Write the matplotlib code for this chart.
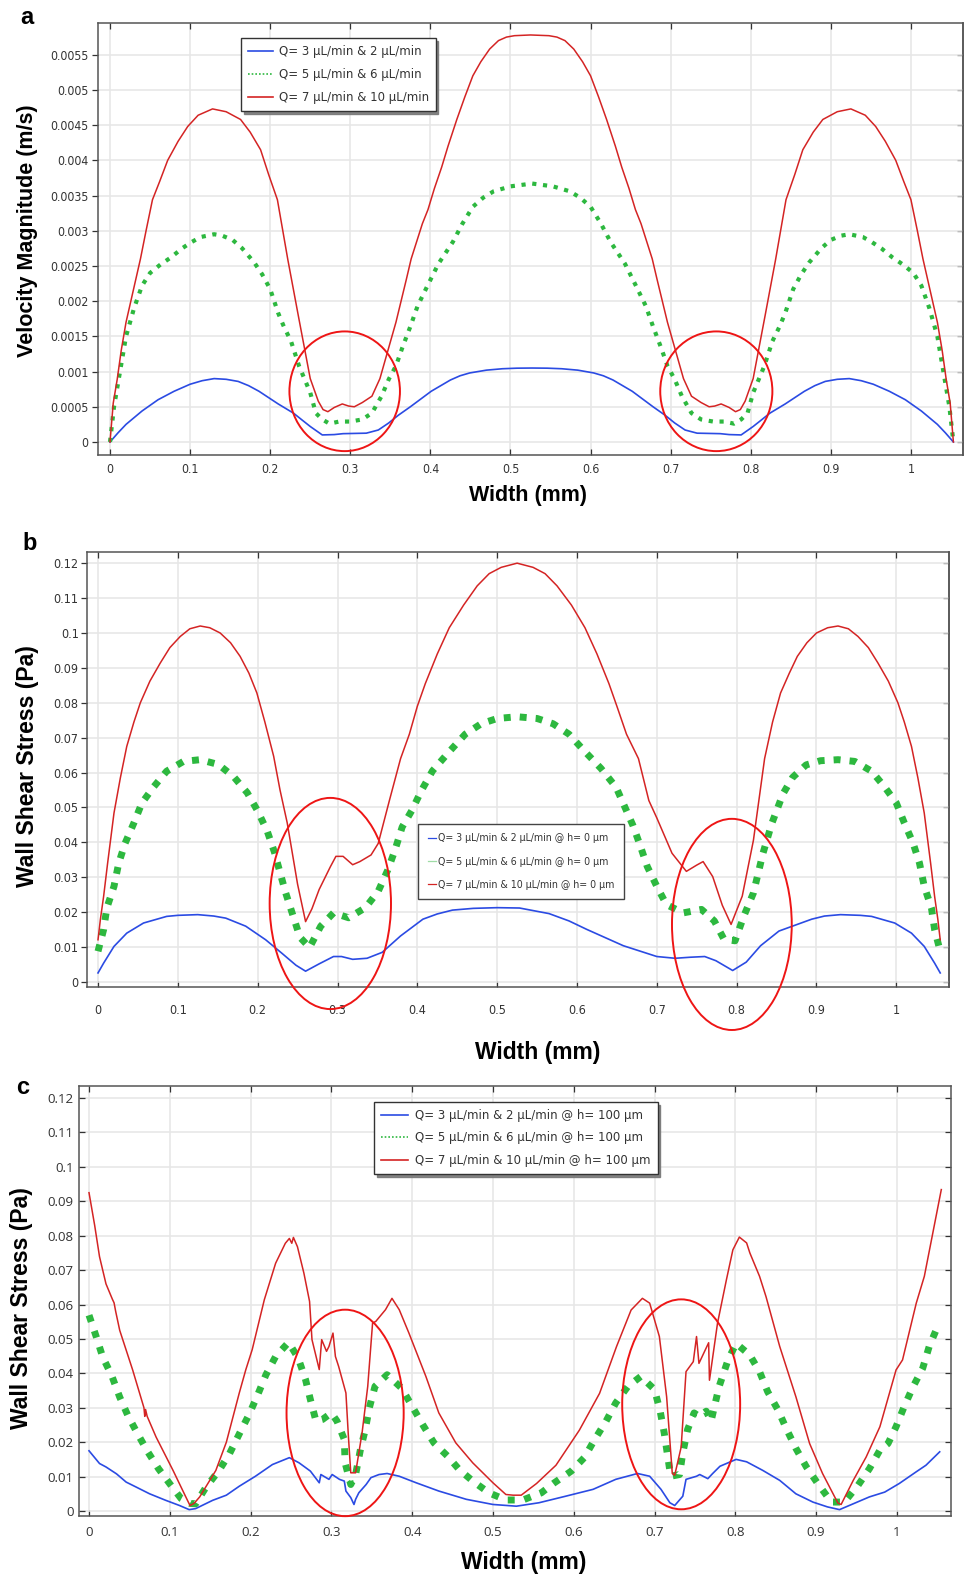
import os
import matplotlib
matplotlib.use("Agg")
import matplotlib.pyplot as plt
from matplotlib.patches import Ellipse
from matplotlib.lines import Line2D
from matplotlib import font_manager
from matplotlib.font_manager import FontProperties

# ---------------------------------------------------------------- data
WIDTH_TICKS = [0, 0.1, 0.2, 0.3, 0.4, 0.5, 0.6, 0.7, 0.8, 0.9, 1.0]
WIDTH_TICK_LABELS = ["0", "0.1", "0.2", "0.3", "0.4", "0.5", "0.6", "0.7", "0.8", "0.9", "1"]

VEL_TICKS = [0, 0.0005, 0.001, 0.0015, 0.002, 0.0025, 0.003, 0.0035, 0.004, 0.0045, 0.005, 0.0055]
VEL_TICK_LABELS = ["0", "0.0005", "0.001", "0.0015", "0.002", "0.0025", "0.003", "0.0035",
                   "0.004", "0.0045", "0.005", "0.0055"]
WSS_TICKS = [0, 0.01, 0.02, 0.03, 0.04, 0.05, 0.06, 0.07, 0.08, 0.09, 0.1, 0.11, 0.12]
WSS_TICK_LABELS = ["0", "0.01", "0.02", "0.03", "0.04", "0.05", "0.06", "0.07", "0.08",
                   "0.09", "0.1", "0.11", "0.12"]

LABELS_A = ["Q= 3 \u03bcL/min & 2 \u03bcL/min",
            "Q= 5 \u03bcL/min & 6 \u03bcL/min",
            "Q= 7 \u03bcL/min & 10 \u03bcL/min"]
LABELS_B = ["Q= 3 \u03bcL/min & 2 \u03bcL/min @ h= 0 \u03bcm",
            "Q= 5 \u03bcL/min & 6 \u03bcL/min @ h= 0 \u03bcm",
            "Q= 7 \u03bcL/min & 10 \u03bcL/min @ h= 0 \u03bcm"]
LABELS_C = ["Q= 3 \u03bcL/min & 2 \u03bcL/min @ h= 100 \u03bcm",
            "Q= 5 \u03bcL/min & 6 \u03bcL/min @ h= 100 \u03bcm",
            "Q= 7 \u03bcL/min & 10 \u03bcL/min @ h= 100 \u03bcm"]

# (a) velocity magnitude, m/s
A_LOW_X = [0.0, 0.01, 0.02, 0.04, 0.06, 0.08, 0.1, 0.115, 0.13, 0.145, 0.16, 0.173, 0.186,
           0.198, 0.21, 0.229, 0.24, 0.25, 0.265, 0.28, 0.291, 0.32, 0.335, 0.348, 0.36,
           0.375, 0.388, 0.401, 0.413, 0.425, 0.437, 0.449, 0.47, 0.49, 0.508, 0.527, 0.546,
           0.564, 0.584, 0.604, 0.616, 0.628, 0.64, 0.652, 0.665, 0.678, 0.693, 0.705, 0.718,
           0.733, 0.762, 0.773, 0.788, 0.803, 0.813, 0.824, 0.843, 0.855, 0.867, 0.88, 0.893,
           0.908, 0.923, 0.938, 0.953, 0.973, 0.993, 1.013, 1.033, 1.043, 1.053]
A_LOW_V = [0.0, 0.00013, 0.00025, 0.00044, 0.0006, 0.00072, 0.00082, 0.00087, 0.0009,
           0.00089, 0.00086, 0.0008, 0.00072, 0.00063, 0.00054, 0.00041, 0.00031, 0.00022,
           0.0001, 0.000105, 0.000118, 0.000125, 0.00017, 0.00027, 0.00038, 0.0005, 0.00061,
           0.00072, 0.0008, 0.00088, 0.00094, 0.00098, 0.00102, 0.00104, 0.001048, 0.00105,
           0.001048, 0.00104, 0.00102, 0.00098, 0.00094, 0.00088, 0.0008, 0.00072, 0.00061,
           0.0005, 0.00038, 0.00027, 0.00017, 0.000125, 0.000118, 0.000105, 0.0001, 0.00022,
           0.00031, 0.00041, 0.00054, 0.00063, 0.00072, 0.0008, 0.00086, 0.00089, 0.0009,
           0.00087, 0.00082, 0.00072, 0.0006, 0.00044, 0.00025, 0.00013, 0.0]

A_MID_X = [0.0, 0.005, 0.011, 0.02, 0.03, 0.04, 0.05, 0.063, 0.076, 0.09, 0.102, 0.113, 0.13,
           0.14, 0.153, 0.165, 0.18, 0.19, 0.2, 0.21, 0.217, 0.226, 0.236, 0.243, 0.25, 0.257,
           0.265, 0.274, 0.286, 0.3, 0.315, 0.327, 0.339, 0.348, 0.357, 0.365, 0.375, 0.384,
           0.396, 0.41, 0.428, 0.44, 0.453, 0.466, 0.479, 0.5, 0.527, 0.553, 0.574, 0.587,
           0.6, 0.613, 0.625, 0.643, 0.657, 0.669, 0.678, 0.688, 0.696, 0.705, 0.714, 0.726,
           0.738, 0.753, 0.767, 0.779, 0.788, 0.796, 0.803, 0.81, 0.817, 0.827, 0.836, 0.843,
           0.853, 0.863, 0.873, 0.888, 0.9, 0.913, 0.923, 0.94, 0.951, 0.963, 0.977, 0.99,
           1.003, 1.013, 1.023, 1.033, 1.042, 1.048, 1.053]
A_MID_V = [0.0, 0.0005, 0.0009, 0.0015, 0.0019, 0.00222, 0.0024, 0.00252, 0.00262, 0.00275,
           0.00284, 0.00291, 0.00295, 0.00293, 0.00287, 0.00275, 0.00255, 0.00238, 0.00217,
           0.00183, 0.00164, 0.00143, 0.00108, 0.00089, 0.0007, 0.00041, 0.00032, 0.00026,
           0.00029, 0.00029, 0.00032, 0.00041, 0.00065, 0.00089, 0.00108, 0.00134, 0.00164,
           0.00193, 0.00221, 0.00253, 0.00284, 0.0031, 0.00334, 0.00347, 0.00356, 0.00363,
           0.00367, 0.00363, 0.00356, 0.00347, 0.00334, 0.0031, 0.00284, 0.00253, 0.00221,
           0.00193, 0.00164, 0.00134, 0.00108, 0.00089, 0.00065, 0.00041, 0.00032, 0.00029,
           0.00029, 0.00026, 0.00032, 0.00041, 0.0007, 0.00089, 0.00108, 0.00143, 0.00164,
           0.00183, 0.00217, 0.00238, 0.00255, 0.00275, 0.00287, 0.00293, 0.00295, 0.00291,
           0.00284, 0.00275, 0.00262, 0.00252, 0.0024, 0.00222, 0.0019, 0.0015, 0.0009,
           0.0005, 0.0]

A_HIGH_X = [0.0, 0.004, 0.009, 0.014, 0.02, 0.03, 0.038, 0.045, 0.053, 0.062, 0.072, 0.085,
            0.097, 0.11, 0.128, 0.145, 0.163, 0.175, 0.188, 0.198, 0.209, 0.222, 0.235, 0.25,
            0.26, 0.266, 0.272, 0.28, 0.29, 0.298, 0.305, 0.315, 0.327, 0.337, 0.344, 0.357,
            0.37, 0.376, 0.383, 0.39, 0.397, 0.405, 0.414, 0.422, 0.433, 0.443, 0.453, 0.463,
            0.474, 0.485, 0.495, 0.505, 0.525, 0.548, 0.558, 0.568, 0.579, 0.59, 0.6, 0.61,
            0.62, 0.631, 0.639, 0.648, 0.656, 0.663, 0.67, 0.677, 0.683, 0.696, 0.709, 0.716,
            0.726, 0.738, 0.748, 0.755, 0.763, 0.773, 0.781, 0.787, 0.793, 0.803, 0.818,
            0.831, 0.844, 0.855, 0.865, 0.878, 0.89, 0.908, 0.925, 0.943, 0.956, 0.968, 0.981,
            0.991, 1.0, 1.008, 1.015, 1.023, 1.033, 1.039, 1.044, 1.049, 1.053]
A_HIGH_V = [0.0, 0.00055, 0.00089, 0.0013, 0.0017, 0.0022, 0.0026, 0.003, 0.00344, 0.0037,
            0.004, 0.00427, 0.00448, 0.00464, 0.00473, 0.00469, 0.00458, 0.0044, 0.00415,
            0.0038, 0.00344, 0.00259, 0.0018, 0.0009, 0.00058, 0.00046, 0.00043, 0.00049,
            0.00054, 0.00051, 0.0005, 0.00056, 0.00065, 0.0009, 0.00118, 0.0017, 0.00231,
            0.0026, 0.00285, 0.0031, 0.0033, 0.0036, 0.0039, 0.0042, 0.00458, 0.0049, 0.0052,
            0.0054, 0.00558, 0.0057, 0.00575, 0.00577, 0.00578, 0.00577, 0.00575, 0.0057,
            0.00558, 0.0054, 0.0052, 0.0049, 0.00458, 0.0042, 0.0039, 0.0036, 0.0033, 0.0031,
            0.00285, 0.0026, 0.00231, 0.0017, 0.00118, 0.0009, 0.00065, 0.00056, 0.0005,
            0.00051, 0.00054, 0.00049, 0.00043, 0.00046, 0.00058, 0.0009, 0.0018, 0.00259,
            0.00344, 0.0038, 0.00415, 0.0044, 0.00458, 0.00469, 0.00473, 0.00464, 0.00448,
            0.00427, 0.004, 0.0037, 0.00344, 0.003, 0.0026, 0.0022, 0.0017, 0.0013, 0.00089,
            0.00055, 0.0]

# (b) wall shear stress at h = 0 um, Pa
B_LOW_X = [0.0, 0.007, 0.02, 0.036, 0.057, 0.086, 0.1, 0.125, 0.145, 0.16, 0.185, 0.21, 0.23,
           0.248, 0.26, 0.277, 0.295, 0.305, 0.319, 0.337, 0.356, 0.379, 0.407, 0.425, 0.444,
           0.47, 0.5, 0.528, 0.565, 0.59, 0.612, 0.658, 0.7, 0.723, 0.742, 0.76, 0.774, 0.795,
           0.812, 0.83, 0.853, 0.894, 0.91, 0.93, 0.955, 0.969, 0.998, 1.019, 1.035, 1.048,
           1.055]
B_LOW_T = [0.0026, 0.0054, 0.0102, 0.014, 0.0169, 0.0188, 0.0191, 0.0193, 0.0189, 0.0183,
           0.016, 0.0121, 0.0083, 0.0048, 0.0031, 0.0052, 0.0073, 0.0073, 0.0065, 0.0068,
           0.0085, 0.0132, 0.018, 0.0195, 0.0206, 0.0211, 0.0213, 0.0212, 0.0196, 0.0175,
           0.0151, 0.0104, 0.0073, 0.0068, 0.0071, 0.0073, 0.0061, 0.0033, 0.0057, 0.0104,
           0.0146, 0.018, 0.0189, 0.0193, 0.0191, 0.0188, 0.0169, 0.014, 0.0102, 0.0054,
           0.0026]

B_MID_X = [0.0, 0.007, 0.011, 0.02, 0.026, 0.034, 0.045, 0.055, 0.07, 0.086, 0.107, 0.128,
           0.151, 0.17, 0.187, 0.2, 0.212, 0.221, 0.228, 0.235, 0.244, 0.253, 0.265, 0.279,
           0.295, 0.314, 0.335, 0.351, 0.363, 0.372, 0.381, 0.393, 0.405, 0.419, 0.44, 0.46,
           0.48, 0.5, 0.525, 0.55, 0.57, 0.59, 0.61, 0.63, 0.649, 0.66, 0.67, 0.679, 0.688,
           0.7, 0.712, 0.733, 0.756, 0.772, 0.784, 0.798, 0.809, 0.821, 0.833, 0.844, 0.858,
           0.87, 0.887, 0.905, 0.927, 0.948, 0.969, 0.985, 1.0, 1.01, 1.021, 1.029, 1.035,
           1.044, 1.048, 1.055]
B_MID_T = [0.0088, 0.015, 0.0212, 0.0274, 0.0341, 0.0398, 0.0456, 0.0513, 0.056, 0.0604,
           0.0632, 0.0637, 0.0623, 0.0588, 0.0542, 0.049, 0.0432, 0.0372, 0.0314, 0.0256,
           0.0192, 0.0128, 0.0099, 0.016, 0.0198, 0.0184, 0.0213, 0.026, 0.0321, 0.0378,
           0.0444, 0.0491, 0.0548, 0.0605, 0.066, 0.071, 0.074, 0.0755, 0.076, 0.0755, 0.074,
           0.071, 0.066, 0.0612, 0.0558, 0.0501, 0.0449, 0.0392, 0.0331, 0.0274, 0.0222,
           0.0198, 0.0208, 0.0175, 0.0123, 0.0118, 0.0189, 0.0255, 0.0369, 0.0454, 0.0539,
           0.0586, 0.0622, 0.0634, 0.0637, 0.0632, 0.0604, 0.056, 0.0513, 0.0456, 0.0398,
           0.0341, 0.0274, 0.0212, 0.015, 0.0088]

B_HIGH_X = [0.0, 0.003, 0.007, 0.012, 0.02, 0.028, 0.036, 0.045, 0.053, 0.065, 0.078, 0.09,
            0.103, 0.115, 0.128, 0.14, 0.153, 0.166, 0.178, 0.189, 0.199, 0.209, 0.22, 0.228,
            0.237, 0.25, 0.26, 0.268, 0.277, 0.291, 0.298, 0.307, 0.319, 0.328, 0.342, 0.351,
            0.365, 0.379, 0.39, 0.4, 0.41, 0.425, 0.44, 0.458, 0.475, 0.49, 0.505, 0.525,
            0.545, 0.56, 0.575, 0.593, 0.61, 0.625, 0.64, 0.65, 0.662, 0.677, 0.69, 0.7,
            0.719, 0.737, 0.75, 0.758, 0.77, 0.782, 0.793, 0.807, 0.821, 0.835, 0.845, 0.855,
            0.866, 0.876, 0.888, 0.9, 0.914, 0.927, 0.94, 0.952, 0.965, 0.977, 0.99, 1.002,
            1.01, 1.019, 1.027, 1.035, 1.043, 1.048, 1.052, 1.055]
B_HIGH_T = [0.0121, 0.018, 0.0245, 0.034, 0.0484, 0.0585, 0.0675, 0.0745, 0.08, 0.0862,
            0.0914, 0.0958, 0.099, 0.1012, 0.102, 0.1015, 0.1, 0.0972, 0.0933, 0.0885, 0.0828,
            0.0745, 0.0647, 0.055, 0.0456, 0.028, 0.0173, 0.021, 0.0265, 0.033, 0.036, 0.036,
            0.0336, 0.0345, 0.0364, 0.0397, 0.052, 0.064, 0.071, 0.079, 0.0855, 0.094, 0.1015,
            0.108, 0.1135, 0.117, 0.1188, 0.12, 0.1188, 0.117, 0.1135, 0.108, 0.1015, 0.094,
            0.0855, 0.079, 0.071, 0.064, 0.052, 0.047, 0.0369, 0.0317, 0.0335, 0.0345, 0.0302,
            0.022, 0.0165, 0.0246, 0.0406, 0.064, 0.0745, 0.0828, 0.0885, 0.0933, 0.0972, 0.1,
            0.1015, 0.102, 0.1012, 0.099, 0.0958, 0.0914, 0.0862, 0.08, 0.0745, 0.0675, 0.0585,
            0.0484, 0.034, 0.0245, 0.018, 0.0121]

# (c) wall shear stress at h = 100 um, Pa
C_LOW_X = [0.0, 0.013, 0.021, 0.034, 0.046, 0.058, 0.075, 0.095, 0.112, 0.124, 0.132, 0.153,
           0.17, 0.186, 0.206, 0.227, 0.248, 0.26, 0.274, 0.285, 0.287, 0.297, 0.301, 0.31,
           0.316, 0.318, 0.324, 0.328, 0.33, 0.334, 0.343, 0.349, 0.359, 0.369, 0.384, 0.405,
           0.433, 0.467, 0.5, 0.529, 0.557, 0.59, 0.624, 0.652, 0.679, 0.694, 0.708, 0.719,
           0.725, 0.735, 0.739, 0.752, 0.756, 0.766, 0.772, 0.781, 0.801, 0.814, 0.834, 0.855,
           0.875, 0.896, 0.914, 0.929, 0.946, 0.966, 0.985, 1.003, 1.024, 1.036, 1.053]
C_LOW_T = [0.0175, 0.0138, 0.0128, 0.0108, 0.0084, 0.007, 0.005, 0.0031, 0.0016, 0.0004,
           0.0007, 0.0031, 0.0046, 0.0072, 0.0101, 0.0135, 0.0155, 0.014, 0.0116, 0.0082,
           0.0106, 0.0092, 0.0106, 0.0092, 0.0087, 0.0058, 0.0039, 0.0019, 0.0034, 0.0053,
           0.0077, 0.0097, 0.0106, 0.0109, 0.0101, 0.0082, 0.0058, 0.0034, 0.0019, 0.0014,
           0.0024, 0.0043, 0.0063, 0.0092, 0.0109, 0.0101, 0.0063, 0.0024, 0.0016, 0.0043,
           0.0092, 0.0101, 0.0106, 0.0094, 0.0109, 0.013, 0.015, 0.0143, 0.0118, 0.0089,
           0.005, 0.0026, 0.0012, 0.0004, 0.0021, 0.0041, 0.0055, 0.008, 0.0114, 0.0133, 0.0172]

C_MID_X = [0.0, 0.009, 0.017, 0.028, 0.038, 0.048, 0.06, 0.073, 0.086, 0.1, 0.114, 0.125,
           0.132, 0.145, 0.161, 0.174, 0.186, 0.198, 0.208, 0.219, 0.231, 0.247, 0.259, 0.268,
           0.274, 0.281, 0.289, 0.3, 0.307, 0.316, 0.317, 0.324, 0.33, 0.336, 0.342, 0.347,
           0.354, 0.369, 0.387, 0.4, 0.413, 0.427, 0.444, 0.458, 0.475, 0.495, 0.516, 0.537,
           0.56, 0.576, 0.597, 0.613, 0.626, 0.64, 0.652, 0.667, 0.683, 0.7, 0.707, 0.712,
           0.716, 0.72, 0.731, 0.735, 0.741, 0.749, 0.755, 0.764, 0.77, 0.78, 0.791, 0.801,
           0.818, 0.83, 0.84, 0.853, 0.863, 0.875, 0.888, 0.902, 0.919, 0.935, 0.952, 0.966,
           0.979, 0.989, 0.999, 1.009, 1.02, 1.032, 1.04, 1.052]
C_MID_T = [0.0569, 0.0506, 0.0447, 0.0394, 0.0331, 0.0278, 0.0225, 0.0171, 0.0123, 0.0079,
           0.0036, 0.0022, 0.0021, 0.007, 0.0118, 0.0167, 0.0224, 0.028, 0.0333, 0.0396,
           0.0449, 0.049, 0.0444, 0.0382, 0.0324, 0.0261, 0.0266, 0.0285, 0.0261, 0.0208,
           0.014, 0.0077, 0.0106, 0.0179, 0.0237, 0.03, 0.0362, 0.0396, 0.0357, 0.0304,
           0.0251, 0.0198, 0.0159, 0.0121, 0.0087, 0.0053, 0.0032, 0.0032, 0.0053, 0.0082,
           0.0116, 0.0155, 0.0208, 0.0261, 0.0314, 0.0362, 0.0391, 0.0353, 0.029, 0.0227,
           0.0164, 0.0101, 0.0106, 0.0169, 0.0237, 0.0285, 0.0275, 0.029, 0.0261, 0.0362,
           0.0439, 0.0487, 0.0453, 0.0405, 0.0347, 0.0293, 0.024, 0.0182, 0.0128, 0.008,
           0.0026, 0.0026, 0.0075, 0.0123, 0.0177, 0.0196, 0.0245, 0.0303, 0.0361, 0.0415,
           0.0478, 0.0545]

C_HIGH_X = [0.0, 0.007, 0.013, 0.021, 0.029, 0.031, 0.033, 0.038, 0.054, 0.068, 0.069, 0.07,
            0.072, 0.083, 0.104, 0.12, 0.125, 0.13, 0.137, 0.157, 0.17, 0.186, 0.194, 0.202,
            0.217, 0.231, 0.243, 0.248, 0.251, 0.253, 0.258, 0.266, 0.273, 0.276, 0.285,
            0.288, 0.294, 0.297, 0.302, 0.305, 0.309, 0.318, 0.321, 0.324, 0.33, 0.338,
            0.345, 0.351, 0.355, 0.367, 0.375, 0.384, 0.396, 0.417, 0.433, 0.454, 0.475, 0.5,
            0.516, 0.525, 0.535, 0.554, 0.578, 0.607, 0.632, 0.653, 0.671, 0.685, 0.694,
            0.706, 0.715, 0.722, 0.725, 0.733, 0.739, 0.748, 0.752, 0.755, 0.767, 0.768,
            0.778, 0.789, 0.797, 0.805, 0.814, 0.818, 0.83, 0.838, 0.855, 0.875, 0.892,
            0.908, 0.927, 0.931, 0.946, 0.962, 0.979, 0.999, 1.007, 1.024, 1.034, 1.055]
C_HIGH_T = [0.0925, 0.083, 0.0739, 0.066, 0.0615, 0.0605, 0.058, 0.0525, 0.041, 0.03, 0.0275,
            0.0295, 0.0275, 0.0215, 0.0118, 0.004, 0.0016, 0.0022, 0.0041, 0.0118, 0.02,
            0.0343, 0.041, 0.0469, 0.0614, 0.072, 0.0778, 0.0792, 0.0778, 0.0795, 0.0768,
            0.0691, 0.0609, 0.0498, 0.0411, 0.0498, 0.0464, 0.0478, 0.0517, 0.0449, 0.042,
            0.0343, 0.022, 0.0111, 0.0111, 0.0227, 0.0362, 0.0546, 0.0551, 0.0585, 0.0618,
            0.0585, 0.0517, 0.0391, 0.0285, 0.0198, 0.014, 0.0082, 0.0048, 0.0046, 0.0046,
            0.008, 0.0133, 0.0235, 0.0342, 0.0478, 0.0584, 0.0618, 0.0604, 0.0507, 0.0332,
            0.0109, 0.0104, 0.0186, 0.0405, 0.0434, 0.0507, 0.0429, 0.0489, 0.038, 0.0546,
            0.0672, 0.0759, 0.0796, 0.0779, 0.075, 0.0682, 0.0623, 0.0478, 0.0332, 0.0196,
            0.0109, 0.0023, 0.0019, 0.0089, 0.0157, 0.0245, 0.041, 0.0439, 0.0604, 0.0682,
            0.0934]

# ---------------------------------------------------------------- styling
BLUE = "#2b4be3"
GREEN = "#2db83f"
RED = "#d42424"
RING = "#ee1515"
INK = "#333333"
FRAME = "#555555"
GRID = "#e6e6e6"
LABEL_FONT = "Liberation Sans"

names = {f.name for f in font_manager.fontManager.ttflist}
C_TICK_FONT = "Open Sans" if "Open Sans" in names else "DejaVu Sans"


def find_narrow():
    """Return (path, is_liberation) of an upright regular narrow face, if any."""
    found = []
    for f in font_manager.fontManager.ttflist:
        tag = (f.name + " " + os.path.basename(f.fname)).lower()
        narrow = ("narrow" in tag or "condensed" in tag
                  or str(f.stretch) in ("condensed", "semi-condensed"))
        if not narrow or f.style != "normal":
            continue
        if "bold" in tag or "oblique" in tag or "italic" in tag:
            continue
        found.append(f)
    for f in found:
        if "liberation" in f.name.lower():
            return f.fname, True
    if found:
        return found[0].fname, False
    return None, False


NARROW_PATH, NARROW_IS_LIB = find_narrow()


def narrow_font(lib_size, other_size, plain_size):
    if NARROW_PATH and NARROW_IS_LIB:
        return FontProperties(fname=NARROW_PATH, size=lib_size)
    if NARROW_PATH:
        return FontProperties(fname=NARROW_PATH, size=other_size)
    return FontProperties(family="Liberation Sans", size=plain_size)


W, H = 965, 1577
fig = plt.figure(figsize=(W / 100, H / 100), dpi=100)


def axes_px(left, top, right, bottom):
    return fig.add_axes([left / W, 1 - bottom / H, (right - left) / W, (bottom - top) / H])


def frame(ax, xlim, ylim, yticks, ylabels, tick_fp, left_dir, xpad, ypad):
    ax.set_xlim(*xlim)
    ax.set_ylim(*ylim)
    ax.set_xticks(WIDTH_TICKS)
    ax.set_xticklabels(WIDTH_TICK_LABELS, fontproperties=tick_fp, color=INK)
    ax.set_yticks(yticks)
    ax.set_yticklabels(ylabels, fontproperties=tick_fp, color=INK)
    ax.grid(True, color=GRID, lw=1.1)
    ax.set_axisbelow(True)
    for s in ax.spines.values():
        s.set_color(FRAME)
        s.set_linewidth(1.1)
    ax.tick_params(axis="x", direction="in", length=4, width=0.9, color=INK,
                   top=True, pad=xpad)
    ax.tick_params(axis="y", direction=left_dir, length=4, width=0.9, color=INK,
                   right=(left_dir == "in"), pad=ypad)
    if left_dir != "in":
        side = ax.secondary_yaxis("right")
        side.set_yticks(yticks)
        side.tick_params(direction="in", length=4, width=0.9, color=INK, labelright=False)
        side.spines["right"].set_color(FRAME)
        side.spines["right"].set_linewidth(1.1)


def handles(dot_lw):
    return [Line2D([], [], color=BLUE, lw=1.2),
            Line2D([], [], color=GREEN, lw=dot_lw, ls=(0, (1, 1.2))),
            Line2D([], [], color=RED, lw=1.2)]


def rings(ax, specs):
    for cx, cy, w, h in specs:
        ax.add_patch(Ellipse((cx, cy), w, h, fill=False, ec=RING, lw=1.4,
                             clip_on=False, zorder=5))


# ---------------------------------------------------------------- (a)
ax = axes_px(98, 23, 963, 455)
frame(ax, (-0.015, 1.065), (-0.000185, 0.00595), VEL_TICKS, VEL_TICK_LABELS,
      narrow_font(10, 8.8, 8.5), "out", 6, 3)
ax.plot(A_LOW_X, A_LOW_V, color=BLUE, lw=1.2, zorder=3)
ax.plot(A_MID_X, A_MID_V, color=GREEN, lw=3.0, ls=(0, (1, 1.6)), zorder=3)
ax.plot(A_HIGH_X, A_HIGH_V, color=RED, lw=1.1, zorder=4)
rings(ax, [(0.293, 0.00072, 0.138, 0.0017), (0.757, 0.00072, 0.14, 0.0017)])
leg = ax.legend(handles(1.2), LABELS_A, loc="upper left", bbox_to_anchor=(0.165, 0.965),
                borderaxespad=0, prop={"family": "DejaVu Sans", "size": 8.5},
                handlelength=2.1, handletextpad=0.5, labelspacing=0.85, borderpad=0.6,
                fancybox=False, edgecolor="#333333", framealpha=1,
                shadow={"color": "#777777", "alpha": 0.9})
for t in leg.get_texts():
    t.set_color(INK)
leg.get_frame().set_linewidth(1.0)
fig.text(28 / W, 1 - 231 / H, "Velocity Magnitude (m/s)", rotation=90, ha="center",
         va="center", family=LABEL_FONT, weight="bold", fontsize=15.5)
fig.text(528 / W, 1 - 496 / H, "Width (mm)", ha="center", va="center",
         family=LABEL_FONT, weight="bold", fontsize=15.5)
fig.text(27 / W, 1 - 17 / H, "a", ha="center", va="center", family=LABEL_FONT,
         weight="bold", fontsize=17)

# ---------------------------------------------------------------- (b)
ax = axes_px(87, 552, 949, 987)
frame(ax, (-0.0138, 1.066), (-0.00143, 0.1232), WSS_TICKS, WSS_TICK_LABELS,
      narrow_font(10.5, 9.0, 9.0), "out", 12, 2)
ax.plot(B_LOW_X, B_LOW_T, color=BLUE, lw=1.2, zorder=3)
ax.plot(B_MID_X, B_MID_T, color=GREEN, lw=5.0, ls=(0, (1, 1.3)), zorder=3)
ax.plot(B_HIGH_X, B_HIGH_T, color=RED, lw=1.1, zorder=4)
rings(ax, [(0.291, 0.0225, 0.152, 0.0605), (0.794, 0.0165, 0.150, 0.0605)])
hb = [Line2D([], [], color=BLUE, lw=0.9),
      Line2D([], [], color="#9fdca6", lw=0.9),
      Line2D([], [], color=RED, lw=0.9)]
leg = ax.legend(hb, LABELS_B, loc="upper left", bbox_to_anchor=(0.384, 0.375),
                borderaxespad=0, prop=narrow_font(9.5, 7.6, 7.6),
                handlelength=0.8, handletextpad=0.2, labelspacing=1.25, borderpad=0.9,
                fancybox=False, edgecolor="#444444", framealpha=1)
for t in leg.get_texts():
    t.set_color(INK)
leg.get_frame().set_linewidth(1.0)
fig.text(28 / W, 1 - 766 / H, "Wall Shear Stress (Pa)", rotation=90, ha="center",
         va="center", family=LABEL_FONT, weight="bold", fontsize=16.5)
fig.text(538 / W, 1 - 1052 / H, "Width (mm)", ha="center", va="center",
         family=LABEL_FONT, weight="bold", fontsize=16.5)
fig.text(30 / W, 1 - 543 / H, "b", ha="center", va="center", family=LABEL_FONT,
         weight="bold", fontsize=17)

# ---------------------------------------------------------------- (c)
ax = axes_px(79, 1086, 951, 1516)
frame(ax, (-0.0124, 1.067), (-0.00145, 0.1235), WSS_TICKS, WSS_TICK_LABELS,
      FontProperties(family=C_TICK_FONT, size=9.5), "in", 7, 4)
ax.plot(C_LOW_X, C_LOW_T, color=BLUE, lw=1.2, zorder=3)
ax.plot(C_MID_X, C_MID_T, color=GREEN, lw=5.0, ls=(0, (1, 1.4)), zorder=3)
ax.plot(C_HIGH_X, C_HIGH_T, color=RED, lw=1.1, zorder=4)
rings(ax, [(0.317, 0.0285, 0.145, 0.060), (0.733, 0.031, 0.146, 0.061)])
leg = ax.legend(handles(1.2), LABELS_C, loc="upper left", bbox_to_anchor=(0.338, 0.963),
                borderaxespad=0, prop={"family": "DejaVu Sans", "size": 8.5},
                handlelength=2.3, handletextpad=0.6, labelspacing=0.8, borderpad=0.6,
                fancybox=False, edgecolor="#333333", framealpha=1,
                shadow={"color": "#777777", "alpha": 0.9})
for t in leg.get_texts():
    t.set_color(INK)
leg.get_frame().set_linewidth(1.0)
fig.text(22 / W, 1 - 1308 / H, "Wall Shear Stress (Pa)", rotation=90, ha="center",
         va="center", family=LABEL_FONT, weight="bold", fontsize=16.5)
fig.text(524 / W, 1 - 1562 / H, "Width (mm)", ha="center", va="center",
         family=LABEL_FONT, weight="bold", fontsize=16.5)
fig.text(23 / W, 1 - 1088 / H, "c", ha="center", va="center", family=LABEL_FONT,
         weight="bold", fontsize=17)

fig.savefig("out.png", dpi=100)
